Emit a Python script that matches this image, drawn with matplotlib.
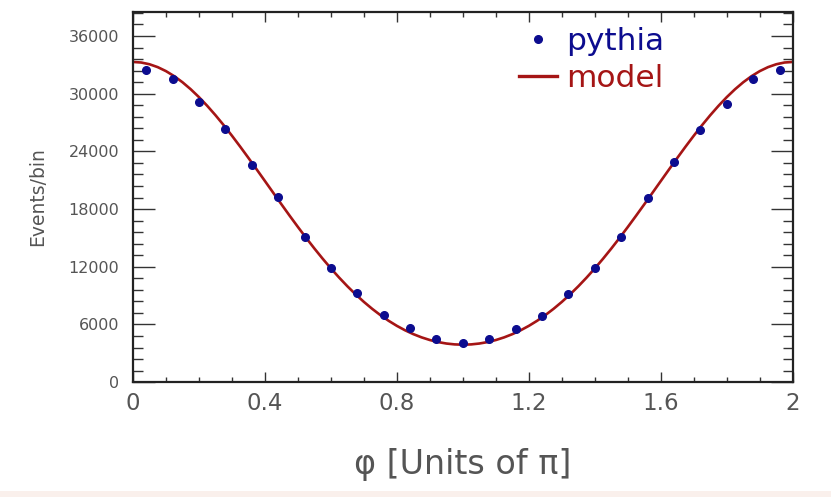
import matplotlib.pyplot as plt
from matplotlib.ticker import MultipleLocator
from matplotlib.patches import Rectangle

# pythia histogram (bin centres, units of pi) and counts per bin
phi_bins = [0.04, 0.12, 0.20, 0.28, 0.36, 0.44, 0.52, 0.60, 0.68, 0.76, 0.84, 0.92, 1.00,
            1.08, 1.16, 1.24, 1.32, 1.40, 1.48, 1.56, 1.64, 1.72, 1.80, 1.88, 1.96]
pythia_counts = [32500, 31560, 29170, 26350, 22600, 19270, 15100, 11875, 9270, 6980, 5625, 4480, 4060,
                 4480, 5520, 6875, 9170, 11875, 15100, 19170, 22900, 26250, 28960, 31560, 32500]

# model curve every 0.025 (0 -> 2)
model_phi = [i * 0.025 for i in range(81)]
model_vals = [33300, 33240, 33059, 32760, 32346, 31821, 31191, 30462, 29643, 28740,
              27765, 26725, 25631, 24493, 23321, 22125, 20918, 19706, 18500, 17308,
              16140, 15002, 13900, 12842, 11832, 10875, 9973, 9131, 8349, 7631,
              6975, 6384, 5857, 5394, 4995, 4659, 4384, 4172, 4021, 3930,
              3900,
              3930, 4021, 4172, 4384, 4659, 4995, 5394, 5857, 6384, 6975,
              7631, 8349, 9131, 9973, 10875, 11832, 12842, 13900, 15002, 16140,
              17308, 18500, 19706, 20918, 22125, 23321, 24493, 25631, 26725, 27765,
              28740, 29643, 30462, 31191, 31821, 32346, 32760, 33059, 33240, 33300]

x_ticks = [0, 0.4, 0.8, 1.2, 1.6, 2]
x_ticklabels = ['0', '0.4', '0.8', '1.2', '1.6', '2']
y_ticks = [0, 6000, 12000, 18000, 24000, 30000, 36000]

blue = '#0c0c8f'
red = '#a51515'
grey = '#555555'

fig = plt.figure(figsize=(8.31, 4.97), dpi=100)
ax = fig.add_axes([0.160, 0.231, 0.794, 0.745])

ax.plot(model_phi, model_vals, color=red, lw=1.9, label='model', zorder=2)
ax.plot(phi_bins, pythia_counts, 'o', color=blue, ms=5.5, label='pythia', zorder=3)

ax.set_xlim(0, 2)
ax.set_ylim(0, 38500)
ax.set_xticks(x_ticks)
ax.set_xticklabels(x_ticklabels)
ax.set_yticks(y_ticks)
ax.xaxis.set_minor_locator(MultipleLocator(0.1))
ax.yaxis.set_minor_locator(MultipleLocator(1200))

ax.tick_params(direction='in', top=True, right=True, which='both', width=1.0, color='#333333')
ax.tick_params(axis='y', which='major', length=16, labelsize=11.5, labelcolor=grey, pad=10)
ax.tick_params(axis='y', which='minor', length=7)
ax.tick_params(axis='x', which='major', length=7, labelsize=16.5, labelcolor=grey, pad=7)
ax.tick_params(axis='x', which='minor', length=3.5)
for s in ax.spines.values():
    s.set_linewidth(1.6)
    s.set_color('#222222')

ax.set_ylabel('Events/bin', fontsize=13.5, color=grey, labelpad=15)
ax.set_xlabel('φ [Units of π]', fontsize=24, color=grey, labelpad=24)

h, l = ax.get_legend_handles_labels()
leg = ax.legend(h[::-1], l[::-1], loc='upper left', bbox_to_anchor=(0.543, 1.035), frameon=False,
                fontsize=22.5, handlelength=1.2, handletextpad=0.3, labelspacing=0.25,
                labelcolor='linecolor', numpoints=1)
leg.get_lines()[1].set_linewidth(2.4)

# faint strip along the bottom edge of the screenshot
fig.add_artist(Rectangle((0, 0), 1, 0.012, transform=fig.transFigure,
                         facecolor='#faf0ec', edgecolor='none'))

fig.savefig('out.png', dpi=100)
